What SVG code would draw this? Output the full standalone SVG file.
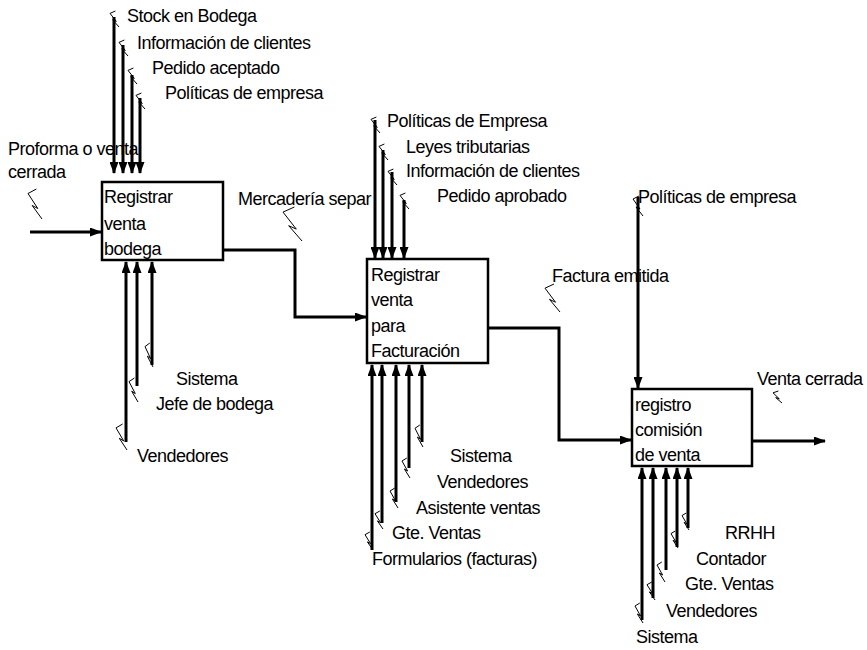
<svg xmlns="http://www.w3.org/2000/svg" xmlns:xlink="http://www.w3.org/1999/xlink" width="867" height="650" viewBox="0 0 867 650">
<style>
text{font-family:"Liberation Sans",Arial,sans-serif;font-size:18px;letter-spacing:-0.5px;fill:#000}
.box{fill:#fff;stroke:#000;stroke-width:2.5}
.ar{fill:none;stroke:#000;stroke-width:3;marker-end:url(#ah)}
.sq{fill:none;stroke:#000;stroke-width:1}
</style>
<defs>
<marker id="ah" markerUnits="userSpaceOnUse" markerWidth="12" markerHeight="9" refX="11" refY="4.5" orient="auto">
<path d="M0,0 L12,4.5 L0,9 z" fill="#000"/>
</marker>
<path id="sq" class="sq" d="M6,0 L0,3 L7,13 L3,11 L10,20" vector-effect="non-scaling-stroke"/>
</defs>
<rect width="867" height="650" fill="#fff"/>

<g id="labels">
<text x="127" y="22">Stock en Bodega</text>
<text x="137" y="49">Información de clientes</text>
<text x="152" y="74">Pedido aceptado</text>
<text x="165" y="99">Políticas de empresa</text>
<text x="8" y="155">Proforma o venta</text>
<text x="8" y="178">cerrada</text>
<text x="238" y="205">Mercadería separ</text>
<text x="176" y="385">Sistema</text>
<text x="156" y="410">Jefe de bodega</text>
<text x="137" y="462">Vendedores</text>
<text x="387" y="127">Políticas de Empresa</text>
<text x="406" y="153">Leyes tributarias</text>
<text x="406" y="177">Información de clientes</text>
<text x="437" y="202">Pedido aprobado</text>
<text x="450" y="462">Sistema</text>
<text x="437" y="488">Vendedores</text>
<text x="416" y="514">Asistente ventas</text>
<text x="392" y="539">Gte. Ventas</text>
<text x="372" y="565">Formularios (facturas)</text>
<text x="552" y="282">Factura emitida</text>
<text x="638" y="203">Políticas de empresa</text>
<text x="757" y="385">Venta cerrada</text>
<text x="725" y="539">RRHH</text>
<text x="696" y="565">Contador</text>
<text x="685" y="590">Gte. Ventas</text>
<text x="666" y="617">Vendedores</text>
<text x="636" y="643">Sistema</text>
</g>

<g id="connectors">
<line class="ar" x1="114" y1="17" x2="114" y2="173"/>
<line class="ar" x1="123" y1="45" x2="123" y2="173"/>
<line class="ar" x1="132" y1="75" x2="132" y2="173"/>
<line class="ar" x1="140" y1="98" x2="140" y2="173"/>
<line class="ar" x1="30" y1="232" x2="101" y2="232"/>
<polyline class="ar" points="223,250 295,250 295,317 366,317"/>
<line class="ar" x1="126" y1="442" x2="126" y2="262"/>
<line class="ar" x1="137" y1="386" x2="137" y2="262"/>
<line class="ar" x1="152" y1="365" x2="152" y2="262"/>
<line class="ar" x1="375" y1="120" x2="375" y2="258"/>
<line class="ar" x1="383" y1="150" x2="383" y2="258"/>
<line class="ar" x1="392" y1="172" x2="392" y2="258"/>
<line class="ar" x1="404" y1="200" x2="404" y2="258"/>
<polyline class="ar" points="488,328 559,328 559,440 631,440"/>
<line class="ar" x1="372" y1="550" x2="372" y2="365"/>
<line class="ar" x1="382" y1="523" x2="382" y2="365"/>
<line class="ar" x1="396" y1="502" x2="396" y2="365"/>
<line class="ar" x1="409" y1="468" x2="409" y2="365"/>
<line class="ar" x1="422" y1="442" x2="422" y2="365"/>
<line class="ar" x1="638" y1="197" x2="638" y2="388"/>
<line class="ar" x1="752" y1="441" x2="825" y2="441"/>
<line class="ar" x1="642" y1="620" x2="642" y2="468"/>
<line class="ar" x1="653" y1="598" x2="653" y2="468"/>
<line class="ar" x1="666" y1="570" x2="666" y2="468"/>
<line class="ar" x1="677" y1="547" x2="677" y2="468"/>
<line class="ar" x1="688" y1="528" x2="688" y2="468"/>
</g>

<g id="squiggles">
<use xlink:href="#sq" transform="translate(110,11) scale(0.9,0.8)"/>
<use xlink:href="#sq" transform="translate(119,40) scale(0.9,0.8)"/>
<use xlink:href="#sq" transform="translate(128,68) scale(0.9,0.8)"/>
<use xlink:href="#sq" transform="translate(136,93) scale(0.9,0.8)"/>
<use xlink:href="#sq" transform="translate(28,189) scale(1.4,1.5)"/>
<use xlink:href="#sq" transform="translate(283,207) scale(1.9,1.7)"/>
<use xlink:href="#sq" transform="translate(145,343) scale(0.8,1.2)"/>
<use xlink:href="#sq" transform="translate(129,378) scale(0.9,1.2)"/>
<use xlink:href="#sq" transform="translate(116,424) scale(1.1,1.3)"/>
<use xlink:href="#sq" transform="translate(371,117) scale(0.9,0.8)"/>
<use xlink:href="#sq" transform="translate(379,144) scale(0.9,0.8)"/>
<use xlink:href="#sq" transform="translate(388,169) scale(0.9,0.8)"/>
<use xlink:href="#sq" transform="translate(400,193) scale(0.9,0.8)"/>
<use xlink:href="#sq" transform="translate(415,425) scale(0.8,1.1)"/>
<use xlink:href="#sq" transform="translate(402,458) scale(0.8,1)"/>
<use xlink:href="#sq" transform="translate(390,488) scale(0.8,1)"/>
<use xlink:href="#sq" transform="translate(375,511) scale(0.8,0.9)"/>
<use xlink:href="#sq" transform="translate(365,532) scale(0.8,0.9)"/>
<use xlink:href="#sq" transform="translate(545,284) scale(1.5,1.4)"/>
<use xlink:href="#sq" transform="translate(633,196) scale(1,1)"/>
<use xlink:href="#sq" transform="translate(773,391) scale(0.9,0.6)"/>
<use xlink:href="#sq" transform="translate(682,513) scale(0.7,0.85)"/>
<use xlink:href="#sq" transform="translate(671,531) scale(0.7,0.85)"/>
<use xlink:href="#sq" transform="translate(657,562) scale(0.8,1)"/>
<use xlink:href="#sq" transform="translate(647,582) scale(0.8,0.9)"/>
<use xlink:href="#sq" transform="translate(635,603) scale(0.8,1)"/>
</g>

<g id="box1">
<rect class="box" x="102" y="182" width="121" height="78"/>
<text x="104" y="203">Registrar</text>
<text x="104" y="230">venta</text>
<text x="104" y="255">bodega</text>
</g>
<g id="box2">
<rect class="box" x="367" y="259" width="121" height="104"/>
<text x="371" y="281">Registrar</text>
<text x="371" y="306">venta</text>
<text x="371" y="332">para</text>
<text x="371" y="357">Facturación</text>
</g>
<g id="box3">
<rect class="box" x="632" y="389" width="120" height="77"/>
<text x="635" y="411">registro</text>
<text x="635" y="436">comisión</text>
<text x="635" y="461">de venta</text>
</g>
</svg>
